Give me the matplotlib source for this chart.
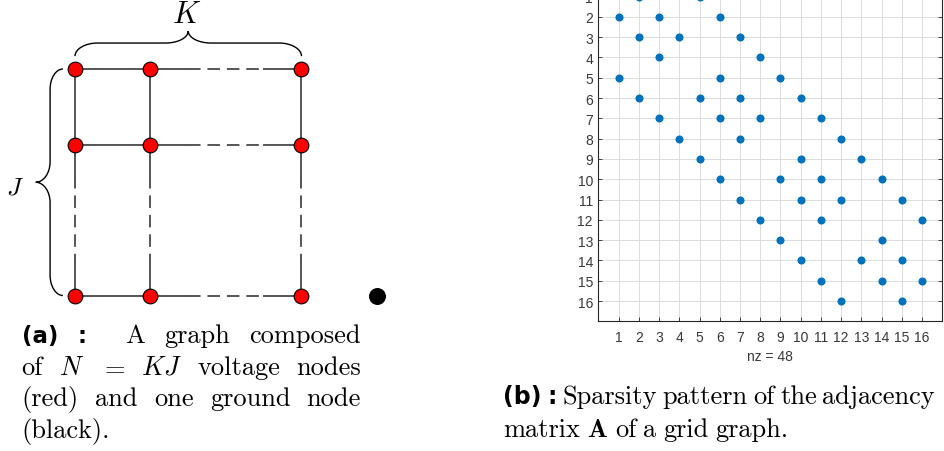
import numpy as np
import matplotlib
matplotlib.use("Agg")
import matplotlib.pyplot as plt
from matplotlib.path import Path
from matplotlib.patches import PathPatch

plt.rcParams['mathtext.fontset'] = 'cm'
plt.rcParams['lines.scale_dashes'] = False
plt.rcParams['axes.unicode_minus'] = False

# ---- data: grid graph sketch (a) ----
node_x = [0, 1, 3]          # columns shown (K direction)
node_y = [0, 1, 3]          # rows shown (J direction)
ground_node = (4, 3)

# ---- data: sparsity pattern (b), nonzero columns per row ----
spy_cols = [
    [2, 5], [1, 3, 6], [2, 4, 7], [3, 8],
    [1, 6, 9], [2, 5, 7, 10], [3, 6, 8, 11], [4, 7, 12],
    [5, 10, 13], [6, 9, 11, 14], [7, 10, 12, 15], [8, 11, 16],
    [9, 14], [10, 13, 15], [11, 14, 16], [12, 15],
]
tick_vals = list(range(1, 17))

W, H = 945, 452
fig = plt.figure(figsize=(W / 100, H / 100), dpi=100, facecolor='white')

# ================= (a) graph diagram =================
unit = 75.5
ox, oy = 75, 70
ax1 = fig.add_axes([0, 0, 400 / W, 1])
ax1.set_xlim(-ox / unit, (400 - ox) / unit)
ax1.set_ylim((H - oy) / unit, -oy / unit)
ax1.axis('off')

edge_col = '#555555'
edge_lw = 1.4


def draw_edge(a, b, fixed, horizontal, skip):
    # skip=True means the edge hides nodes in between -> dashed middle
    def xy(s):
        return (s, fixed) if horizontal else (fixed, s)
    if not skip:
        p, q = xy(a), xy(b)
        ax1.plot([p[0], q[0]], [p[1], q[1]], color=edge_col, lw=edge_lw, zorder=1)
        return
    ins = 0.5 if horizontal else 0.42
    pts = [a, a + ins, b - ins, b]
    for i in range(3):
        p, q = xy(pts[i]), xy(pts[i + 1])
        ls = (0, (9, 5)) if i == 1 else '-'
        ax1.plot([p[0], q[0]], [p[1], q[1]], color=edge_col, lw=edge_lw,
                 linestyle=ls, zorder=1)


for yy in node_y:
    for a, b in zip(node_x[:-1], node_x[1:]):
        draw_edge(a, b, yy, True, b - a > 1)
for xx in node_x:
    for a, b in zip(node_y[:-1], node_y[1:]):
        draw_edge(a, b, xx, False, b - a > 1)

gx, gy = np.meshgrid(node_x, node_y)
ax1.plot(gx.ravel(), gy.ravel(), 'o', ms=10.6, mfc='#ff0000', mec='black',
         mew=0.8, ls='none', zorder=3)
ax1.plot([ground_node[0]], [ground_node[1]], 'o', ms=11.2, color='black', zorder=3)


def brace(ax, p0, p1, normal, db, dt, r):
    p0, p1, n = np.array(p0, float), np.array(p1, float), np.array(normal, float)
    L = np.linalg.norm(p1 - p0)
    u = (p1 - p0) / L
    m = L / 2
    k = 0.55
    sd = [(0, 0),
          (0, k * db), (r - k * r, db), (r, db),
          (m - r, db),
          (m - r + k * r, db), (m, dt - k * (dt - db)), (m, dt),
          (m, dt - k * (dt - db)), (m + r - k * r, db), (m + r, db),
          (L - r, db),
          (L - r + k * r, db), (L, k * db), (L, 0)]
    codes = [Path.MOVETO] + [Path.CURVE4] * 3 + [Path.LINETO] + [Path.CURVE4] * 6 \
        + [Path.LINETO] + [Path.CURVE4] * 3
    verts = [tuple(p0 + s * u + d * n) for s, d in sd]
    ax.add_patch(PathPatch(Path(verts, codes), fill=False, lw=1.0,
                           edgecolor='black', zorder=2))


brace(ax1, (0, -0.17), (3, -0.17), (0, -1), 0.174, 0.333, 0.3)
brace(ax1, (-0.16, 0), (-0.16, 3), (-1, 0), 0.17, 0.36, 0.27)
ax1.text(1.48, -0.74, r'$K$', fontsize=22, ha='center', va='center')
ax1.text(-0.79, 1.56, r'$J$', fontsize=18, ha='center', va='center')

# ================= (b) sparsity pattern =================
rows, cols = [], []
for i, cs in enumerate(spy_cols, start=1):
    for c in cs:
        rows.append(i)
        cols.append(c)

x_left, x_right = 598.5, 942.2
y_bottom = 322.3
row_px = 20.3
y_top = y_bottom - 17 * row_px
ax2 = fig.add_axes([x_left / W, 1 - y_bottom / H,
                    (x_right - x_left) / W, (y_bottom - y_top) / H])
ax2.plot(cols, rows, 'o', ms=4.8, color='#0072BD', ls='none', clip_on=False)
ax2.set_xlim(0, 17)
ax2.set_ylim(17, 0)
ax2.set_xticks(tick_vals)
ax2.set_yticks(tick_vals)
ax2.grid(True, color='#dcdcdc', lw=0.7)
ax2.set_axisbelow(True)
txt_col = '#383838'
for sp in ax2.spines.values():
    sp.set_color('#262626')
    sp.set_linewidth(0.8)
ax2.tick_params(direction='in', length=3, width=0.6, color='#262626',
                top=True, right=True, labelsize=10, labelcolor=txt_col)
ax2.tick_params(axis='x', pad=6)
ax2.tick_params(axis='y', pad=4)
for lab in ax2.get_xticklabels() + ax2.get_yticklabels():
    lab.set_family('Liberation Sans')
ax2.set_xlabel(f'nz = {len(rows)}', fontsize=10, color=txt_col,
               family='Liberation Sans', labelpad=4)

# ================= captions (justified) =================
renderer = fig.canvas.get_renderer()
bold_a = dict(family='DejaVu Sans', weight='bold', fontsize=16.5)
bold_b = dict(family='DejaVu Sans', weight='bold', fontsize=17)
serif = dict(family='cmr10', fontsize=19)


def put_line(words, x0, x1, y, justify=True, weights=None, gap_nat=7.0):
    objs = []
    for w, st in words:
        objs.append(fig.text(x0 / W, 1 - y / H, w, va='baseline', ha='left', **st))
    widths = [t.get_window_extent(renderer).width for t in objs]
    if weights is None:
        weights = [1] * (len(objs) - 1)
    if justify and len(objs) > 1:
        gap = (x1 - x0 - sum(widths)) / sum(weights)
    else:
        gap = gap_nat
    x = x0
    for i, t in enumerate(objs):
        t.set_x(x / W)
        x += widths[i]
        if i < len(weights):
            x += gap * weights[i]


put_line([('(a)', bold_a), (':', bold_a), ('A', serif), ('graph', serif),
          ('composed', serif)], 21.7, 361, 343, weights=[1, 2, 1, 1])
put_line([('of', serif), (r'$N$', serif), (r'$=$', serif), (r'$KJ$', serif),
          ('voltage', serif), ('nodes', serif)], 21.7, 361, 375)
put_line([('(red)', serif), ('and', serif), ('one', serif), ('ground', serif),
          ('node', serif)], 21.7, 361, 406.5)
put_line([('(black).', serif)], 21.7, 361, 438, justify=False)

put_line([('(b)', bold_b), (':', bold_b), ('Sparsity', serif), ('pattern', serif),
          ('of', serif), ('the', serif), ('adjacency', serif)], 503, 935, 404)
put_line([('matrix', serif), (r'$\mathbf{A}$', serif), ('of', serif), ('a', serif),
          ('grid', serif), ('graph.', serif)], 503, 935, 437, justify=False)

fig.savefig('out.png', dpi=100, facecolor='white')
